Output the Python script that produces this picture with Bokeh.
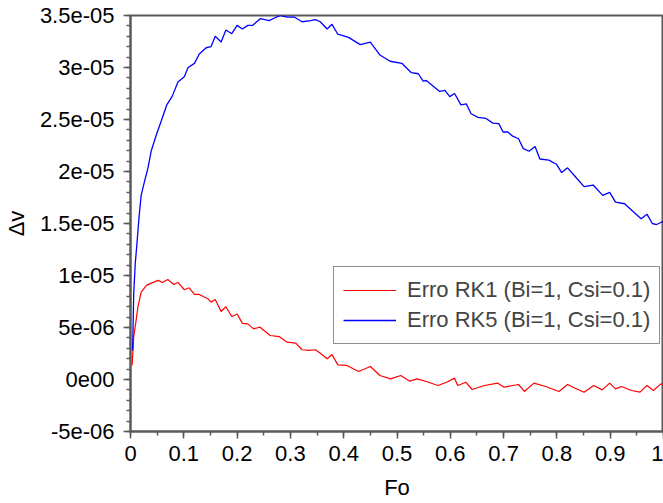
import numpy as np
from bokeh.plotting import figure
from bokeh.models import Range1d, FixedTicker, Legend, LegendItem
from bokeh.embed import file_html
from bokeh.resources import INLINE

UNIT = 1e-6  # values below are given in units of 1e-6

fo_rk1 = [0.003, 0.006, 0.010, 0.014, 0.020, 0.030, 0.039, 0.052, 0.060, 0.070,
          0.081, 0.089, 0.101, 0.110, 0.120, 0.129, 0.145, 0.151, 0.159, 0.170,
          0.179, 0.190, 0.200, 0.210, 0.220, 0.231, 0.243, 0.262, 0.279, 0.294,
          0.310, 0.322, 0.335, 0.347, 0.356, 0.369, 0.378, 0.389, 0.406, 0.428,
          0.450, 0.468, 0.488, 0.507, 0.524, 0.538, 0.555, 0.577, 0.593, 0.608,
          0.614, 0.629, 0.641, 0.664, 0.689, 0.701, 0.717, 0.728, 0.739, 0.757,
          0.779, 0.804, 0.820, 0.832, 0.851, 0.869, 0.885, 0.899, 0.910, 0.921,
          0.940, 0.956, 0.969, 0.981, 0.995, 1.000]
dv_rk1 = [1.35, 4.1, 5.5, 7.0, 8.4, 9.05, 9.27, 9.53, 9.33, 9.62,
          9.14, 9.33, 8.63, 8.82, 8.18, 8.18, 7.77, 7.44, 7.7, 6.54,
          7.0, 6.06, 6.3, 5.4, 5.35, 4.87, 5.03, 4.23, 4.13, 3.59,
          3.5, 2.86, 2.8, 2.86, 2.53, 1.99, 2.4, 1.41, 1.35, 0.77,
          1.25, 0.38, 0.06, 0.38, -0.16, 0.06, -0.19, -0.58, -0.26, 0.13,
          -0.58, -0.26, -0.96, -0.58, -0.35, -0.74, -0.58, -0.48, -1.15, -0.35,
          -0.67, -1.15, -0.48, -0.8, -1.22, -0.58, -1.0, -0.35, -0.9, -0.67,
          -1.06, -1.22, -0.58, -1.06, -0.42, -0.5]

fo_rk5 = [0.004, 0.006, 0.009, 0.012, 0.016, 0.020, 0.027, 0.033, 0.039, 0.049,
          0.058, 0.068, 0.078, 0.089, 0.101, 0.108, 0.120, 0.129, 0.142, 0.151,
          0.159, 0.170, 0.179, 0.190, 0.200, 0.210, 0.220, 0.229, 0.244, 0.260,
          0.276, 0.282, 0.294, 0.307, 0.322, 0.338, 0.347, 0.356, 0.369, 0.378,
          0.389, 0.409, 0.431, 0.450, 0.468, 0.487, 0.509, 0.527, 0.540, 0.549,
          0.555, 0.580, 0.590, 0.599, 0.608, 0.620, 0.630, 0.639, 0.652, 0.667,
          0.680, 0.691, 0.699, 0.708, 0.717, 0.728, 0.737, 0.748, 0.759, 0.768,
          0.785, 0.799, 0.809, 0.820, 0.838, 0.851, 0.868, 0.886, 0.899, 0.910,
          0.927, 0.944, 0.958, 0.969, 0.979, 0.987, 0.995, 1.000]
dv_rk5 = [2.8, 8.2, 11.2, 13.0, 15.6, 17.7, 19.2, 20.4, 22.0, 23.6,
          24.9, 26.4, 27.2, 28.6, 29.1, 30.0, 30.4, 31.3, 31.9, 32.0,
          33.0, 32.45, 33.6, 33.25, 34.05, 33.7, 34.05, 34.05, 34.7, 34.5,
          34.9, 35.0, 34.85, 34.85, 34.4, 34.5, 34.6, 34.4, 33.7, 34.15,
          33.2, 32.9, 32.2, 32.45, 31.2, 30.6, 30.4, 29.5, 29.4, 28.7,
          28.75, 27.7, 27.8, 27.2, 27.5, 26.4, 26.5, 25.55, 25.2, 25.1,
          24.65, 24.6, 23.8, 23.8, 23.4, 23.15, 22.2, 21.95, 22.4, 21.2,
          21.1, 20.7, 19.9, 20.35, 19.3, 18.55, 18.7, 17.7, 18.0, 17.05,
          16.9, 16.1, 15.45, 15.9, 15.0, 14.9, 15.1, 15.2]

x_ticks = [0.0, 0.1, 0.2, 0.3, 0.4, 0.5, 0.6, 0.7, 0.8, 0.9, 1.0]
x_tick_labels = ["0", "0.1", "0.2", "0.3", "0.4", "0.5", "0.6", "0.7", "0.8", "0.9", "1"]
y_ticks = [-5e-06, 0.0, 5e-06, 1e-05, 1.5e-05, 2e-05, 2.5e-05, 3e-05, 3.5e-05]
y_tick_labels = ["-5e-06", "0e00", "5e-06", "1e-05", "1.5e-05", "2e-05", "2.5e-05", "3e-05", "3.5e-05"]

legend_labels = ["Erro RK1 (Bi=1, Csi=0.1)", "Erro RK5 (Bi=1, Csi=0.1)"]

FONT = "Liberation Sans"
FS = "22px"
GRAY = "#5a5a5a"

p = figure(width=663, height=503, output_backend="svg", toolbar_location=None,
           x_range=Range1d(0, 1), y_range=Range1d(-5e-06, 3.5e-05),
           min_border_left=129, min_border_right=0, min_border_top=15, min_border_bottom=72)
p.background_fill_color = "white"
p.border_fill_color = "white"
p.grid.visible = False
p.outline_line_color = GRAY
p.outline_line_width = 2

r1 = p.line(fo_rk1, np.array(dv_rk1) * UNIT, line_color="#ff0000", line_width=1.2)
r5 = p.line(fo_rk5, np.array(dv_rk5) * UNIT, line_color="#0000ff", line_width=1.3)

x_minor = [i / 20 for i in range(21)]
y_minor = [i * 1e-06 for i in range(-5, 36)]
p.xaxis.ticker = FixedTicker(ticks=x_ticks, minor_ticks=x_minor)
p.yaxis.ticker = FixedTicker(ticks=y_ticks, minor_ticks=y_minor)
p.xaxis.major_label_overrides = {t: l for t, l in zip(x_ticks, x_tick_labels)}
p.yaxis.major_label_overrides = {t: l for t, l in zip(y_ticks, y_tick_labels)}

for ax in (p.xaxis, p.yaxis):
    ax.axis_line_color = GRAY
    ax.axis_line_width = 2
    ax.major_tick_line_color = GRAY
    ax.major_tick_line_width = 1.5
    ax.minor_tick_line_color = GRAY
    ax.minor_tick_line_width = 1.5
    ax.major_tick_in = 0
    ax.major_tick_out = 7
    ax.minor_tick_in = 0
    ax.minor_tick_out = 4
    ax.major_label_text_font = FONT
    ax.major_label_text_font_size = FS
    ax.major_label_text_color = "black"
    ax.axis_label_text_font = FONT
    ax.axis_label_text_font_size = FS
    ax.axis_label_text_font_style = "normal"
    ax.axis_label_text_color = "black"

p.xaxis.axis_label = "Fo"
p.yaxis.axis_label = "Δv"
p.xaxis.major_label_standoff = 7
p.yaxis.major_label_standoff = 9
p.xaxis.axis_label_standoff = 11
p.yaxis.axis_label_standoff = 8

legend = Legend(items=[LegendItem(label=legend_labels[0], renderers=[r1]),
                       LegendItem(label=legend_labels[1], renderers=[r5])],
                location=(203, 87))
legend.border_line_color = "#222222"
legend.border_line_width = 1
legend.background_fill_color = "white"
legend.background_fill_alpha = 1
legend.label_text_font = FONT
legend.label_text_font_size = FS
legend.glyph_width = 53
legend.glyph_height = 28
legend.label_height = 28
legend.label_standoff = 11
legend.padding = 9
legend.spacing = 2
legend.margin = 0
p.add_layout(legend, "center")

open("out.html", "w").write(file_html(p, INLINE))
